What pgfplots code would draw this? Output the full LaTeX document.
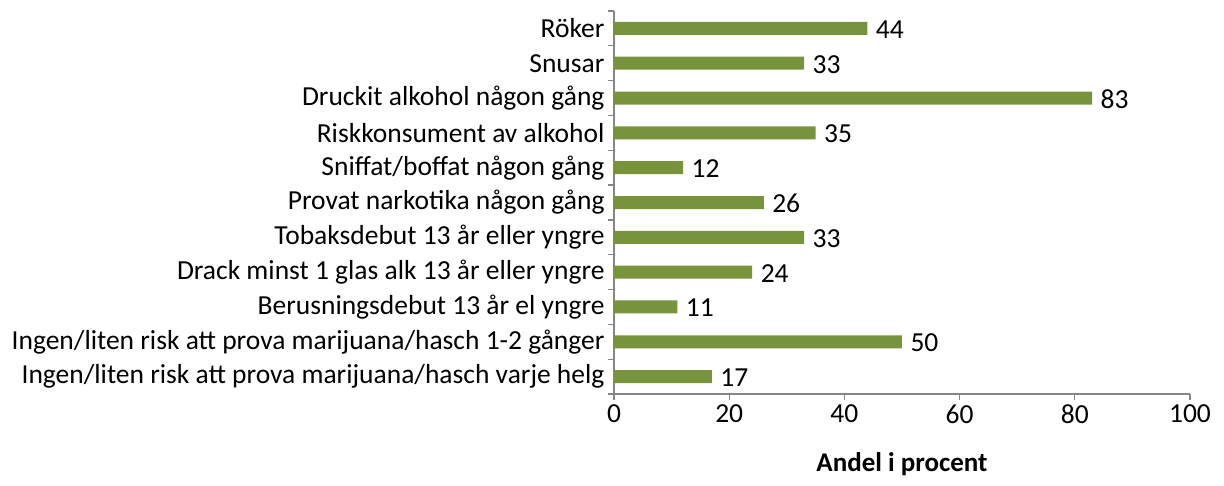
\documentclass[border=0pt]{standalone}
\usepackage{pgfplots}
\pgfplotsset{compat=1.18}
\usepackage{fontspec}
\setmainfont{Carlito}
\definecolor{bargreen}{HTML}{77933C}
\definecolor{axgray}{HTML}{868686}
\begin{document}
\begin{tikzpicture}[x=1pt,y=1pt]
\useasboundingbox (-614,-91) rectangle (610,394);
\begin{axis}[
  at={(0,0)}, anchor=south west,
  scale only axis, width=576pt, height=383pt,
  xmin=0, xmax=100, ymin=-0.5, ymax=10.5,
  y dir=reverse,
  xbar, bar width=13pt,
  axis x line*=bottom, axis y line*=left,
  axis line style={axgray, line width=1.2pt},
  xtick={0,20,...,100},
  ytick={0,...,10},
  yticklabels={Röker,Snusar,Druckit alkohol någon gång,Riskkonsument av alkohol,Sniffat/boffat någon gång,Provat narkotika någon gång,Tobaksdebut 13 år eller yngre,Drack minst 1 glas alk 13 år eller yngre,Berusningsdebut 13 år el yngre,Ingen/liten risk att prova marijuana/hasch 1-2 gånger,Ingen/liten risk att prova marijuana/hasch varje helg},
  minor ytick={-0.5,0.5,...,10.5},
  tick align=outside,
  major tick length=6pt,
  minor tick length=6pt,
  y tick style={draw=none},
  minor y tick style={draw=axgray, line width=1.2pt},
  x tick style={axgray, line width=1.2pt},
  tick label style={font=\fontsize{27.5}{32}\selectfont, text=black},
  /pgf/number format/assume math mode=true,
  yticklabel style={xshift=0pt},
  xticklabel style={yshift=-1pt},
  xlabel={\textbf{Andel i procent}},
  xlabel style={font=\fontsize{27}{31}\selectfont, yshift=-22pt},
  nodes near coords,
  every node near coord/.append style={font=\fontsize{27.5}{32}\selectfont, black, anchor=west, xshift=5pt, yshift=-1pt},
  point meta=explicit symbolic,
  enlargelimits=false,
  clip=false,
]
\addplot[fill=bargreen, draw=none] coordinates {
 (44,0) [44] (33,1) [33] (83,2) [83] (35,3) [35] (12,4) [12] (26,5) [26]
 (33,6) [33] (24,7) [24] (11,8) [11] (50,9) [50] (17,10) [17]
};
\end{axis}
\end{tikzpicture}
\end{document}
